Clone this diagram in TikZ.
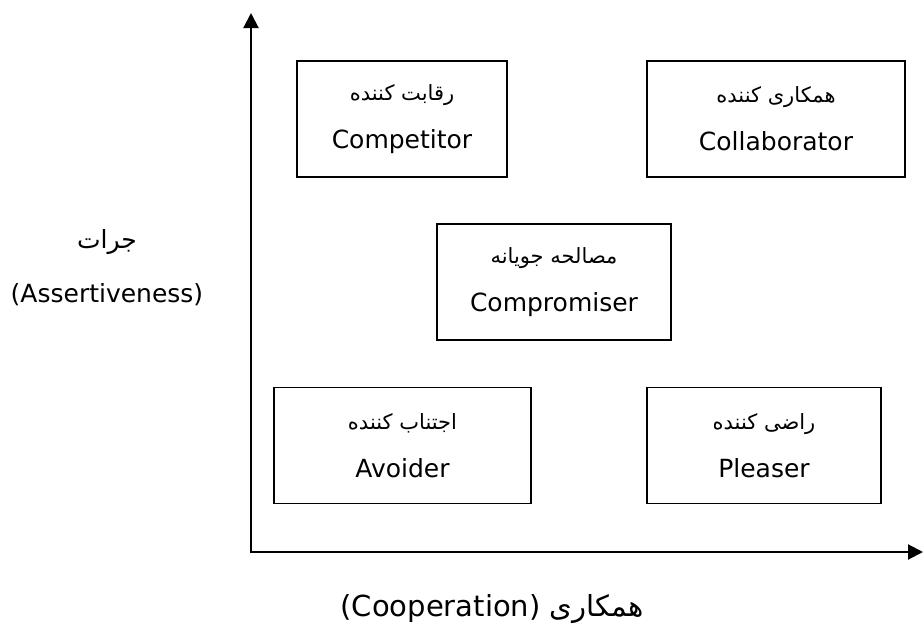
\documentclass[tikz,border=0pt]{standalone}
\usepackage{fontspec}
\setmainfont{DejaVu Sans}
\newfontfamily\fa[Script=Arabic]{DejaVu Sans}
\TeXXeTstate=1
\usetikzlibrary{arrows.meta}
\newcommand{\fatext}[1]{{\fa\fontsize{10.5}{12}\selectfont\beginR #1\endR}}

\begin{document}
\begin{tikzpicture}[x=0.5pt,y=-0.5pt,font=\fontsize{12.5}{14}\selectfont,
  box/.style={draw,line width=0.75pt,minimum height=58pt,align=center,inner sep=0pt},
  lab/.style={align=center}]
\useasboundingbox (0,0) rectangle (923,627);
% the five styles
\node[box,minimum width=105pt] (Cm) at (402,119) {\fatext{رقابت کننده}\\[10pt]Competitor};
\node[box,minimum width=129pt] (Cl) at (776,119) {\fatext{همکاری کننده}\\[10pt]Collaborator};
\node[box,minimum width=117pt] (Cp) at (554,282) {\fatext{مصالحه جویانه}\\[10pt]Compromiser};
\node[box,minimum width=128.5pt] (Av) at (402.5,445.5) {\fatext{اجتناب کننده}\\[10pt]Avoider};
\node[box,minimum width=117pt] (Pl) at (764,445.5) {\fatext{راضی کننده}\\[10pt]Pleaser};
% axes
\coordinate (O) at (251,552);
\coordinate (Yt) at (251,13);
\coordinate (Xt) at (923,552);
\draw[line width=1pt,{Triangle[length=7.5pt,width=7.5pt]}-{Triangle[length=7.5pt,width=7.5pt]}] (Yt) -- (O) -- (Xt);
\node[lab] (Y) at (107,268) {{\fa\fontsize{12.5}{14}\selectfont\beginR جرات\endR}\\[13pt](Assertiveness)};
\node[lab,font=\fontsize{14.5}{16}\selectfont] (X) at (492,609) {(Cooperation) {\fa\beginR همکاری\endR}};
\end{tikzpicture}
\end{document}
